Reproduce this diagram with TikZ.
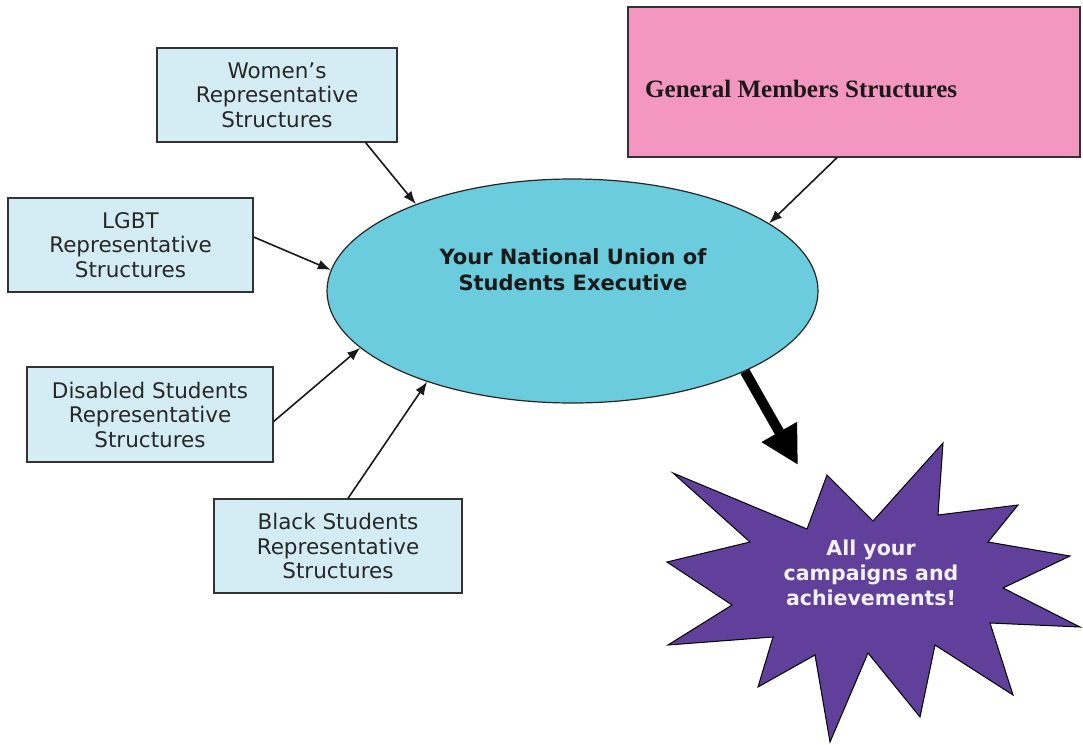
\documentclass[tikz,border=0pt]{standalone}
\usepackage{fontspec}
\setmainfont{DejaVu Sans}
\newfontfamily\tnr{Liberation Serif}
\usetikzlibrary{shapes.geometric,arrows.meta}
\definecolor{boxblue}{RGB}{212,236,244}
\definecolor{ellblue}{RGB}{106,204,221}
\definecolor{pinkfill}{RGB}{243,150,192}
\definecolor{starpurple}{RGB}{96,64,155}
\definecolor{txtgray}{RGB}{40,40,40}
\begin{document}
\begin{tikzpicture}[x=1pt,y=-1pt,
  repbox/.style={draw=black!80, line width=1.3pt, fill=boxblue, align=center,
    inner sep=0pt, text=txtgray, font=\fontsize{21.5}{24.5}\selectfont},
  conn/.style={-{Latex[length=13pt,width=10pt]}, line width=1.6pt, black!90},
  bigarrow/.style={-{Triangle[length=38pt,width=38pt]}, line width=10pt, black}]
\useasboundingbox (0,0) rectangle (1083,744);
\fill[white] (0,0) rectangle (1083,744);

% boxes
\node[repbox, minimum width=240pt, minimum height=94pt] (w) at (277,95)
  {Women's\\Representative\\Structures};
\node[repbox, minimum width=245pt, minimum height=94pt] (l) at (130.5,245)
  {LGBT\\Representative\\Structures};
\node[repbox, minimum width=246pt, minimum height=95pt] (d) at (150,414.5)
  {Disabled Students\\Representative\\Structures};
\node[repbox, minimum width=248pt, minimum height=94pt] (b) at (338,546)
  {Black Students\\Representative\\Structures};
\node[draw=black!80, line width=1.3pt, fill=pinkfill, minimum width=452pt,
  minimum height=150pt, inner sep=0pt] (g) at (854,82) {};
\node[anchor=base west, inner sep=0pt, font=\tnr\bfseries\fontsize{25}{30}\selectfont,
  text=black!90] (gt) at (645,97) {General Members Structures};

% ellipse
\node[ellipse, draw=black!85, line width=1.2pt, fill=ellblue, minimum width=491pt,
  minimum height=224pt, inner sep=0pt] (e) at (572.5,291) {};
\node[align=center, inner sep=0pt, font=\bfseries\fontsize{21}{26}\selectfont,
  text=black!90] (et) at (573,270) {Your National Union of\\Students Executive};

% star
\filldraw[fill=starpurple, draw=black, line width=1pt, line join=miter]
  (673,473) -- (807,529) -- (827,475) -- (873,521) -- (943,443) -- (938,515)
  -- (1018,505) -- (988,542) -- (1070,556) -- (1003,588) -- (1080,627)
  -- (990,623) -- (1013,695) -- (935,645) -- (920,717) -- (868,653)
  -- (830,742) -- (815,655) -- (758,687) -- (773,637) -- (668,645)
  -- (732,605) -- (667,562) -- (750,542) -- cycle;
\node[align=center, inner sep=0pt, font=\bfseries\fontsize{20.5}{25}\selectfont,
  text=white!93!starpurple] (st) at (871,573) {All your\\campaigns and\\achievements!};
\coordinate (startip) at (798,465);

% connectors
\draw[conn] ([xshift=-32pt]w.south east) -- (e.151);
\draw[conn] ([yshift=8pt]l.east) -- (e.175.5);
\draw[conn] ([yshift=-7pt]d.east) -- (e.195.5);
\draw[conn] ([xshift=10pt]b.north) -- (e.212.4);
\draw[conn] ([xshift=-17pt]g.south) -- (e.19.7);
\draw[bigarrow] (e.-25) -- (startip);
\end{tikzpicture}
\end{document}
